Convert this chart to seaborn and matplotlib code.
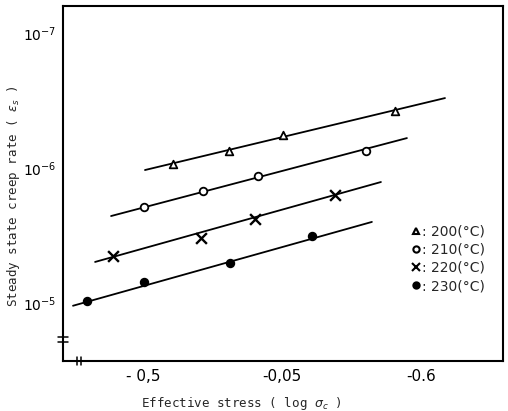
import numpy as np
import pandas as pd
import matplotlib
matplotlib.use("Agg")
import matplotlib.pyplot as plt
import seaborn as sns

# Temperatures (deg C) and measured steady-state creep rates
temps = [200, 210, 220, 230]

stress_200 = [0.216, 0.619, 1.007, 1.813]
rate_200 = [9.33e-7, 7.48e-7, 5.70e-7, 3.79e-7]

stress_210 = [0.007, 0.432, 0.827, 1.604]
rate_210 = [1.945e-6, 1.48e-6, 1.145e-6, 7.48e-7]

stress_220 = [-0.216, 0.417, 0.806, 1.381]
rate_220 = [4.49e-6, 3.30e-6, 2.39e-6, 1.585e-6]

stress_230 = [-0.403, 0.007, 0.626, 1.216]
rate_230 = [9.66e-6, 6.99e-6, 5.06e-6, 3.19e-6]

# Fitted straight lines (end points)
fit_x_200 = [0.014, 2.173]
fit_y_200 = [1.035e-6, 3.03e-7]
fit_x_210 = [-0.230, 1.899]
fit_y_210 = [2.27e-6, 6.0e-7]
fit_x_220 = [-0.345, 1.712]
fit_y_220 = [4.97e-6, 1.27e-6]
fit_x_230 = [-0.504, 1.647]
fit_y_230 = [1.05e-5, 2.51e-6]

x_ticks = [0, 1, 2]
x_tick_labels = ["- 0,5", "-0,05", "-0.6"]
y_ticks = [1e-7, 1e-6, 1e-5]
y_tick_labels = [r"$10^{-7}$", r"$10^{-6}$", r"$10^{-5}$"]

sns.set_theme(style="white")
plt.rcParams["font.family"] = ["DejaVu Sans"]

fig = plt.figure(figsize=(5.08, 4.11), dpi=100)
ax = fig.add_axes([0.124, 0.122, 0.866, 0.863])

series = [
    (200, stress_200, rate_200, fit_x_200, fit_y_200, "^", "white"),
    (210, stress_210, rate_210, fit_x_210, fit_y_210, "o", "white"),
    (220, stress_220, rate_220, fit_x_220, fit_y_220, "x", "black"),
    (230, stress_230, rate_230, fit_x_230, fit_y_230, "o", "black"),
]

handles = []
for t, sx, sy, fx, fy, mk, fc in series:
    fit_df = pd.DataFrame({"x": fx, "y": fy})
    sns.lineplot(data=fit_df, x="x", y="y", ax=ax, color="black",
                 linewidth=1.3, sort=False, estimator=None)
    pts = pd.DataFrame({"x": sx, "y": sy})
    if mk == "x":
        sns.scatterplot(data=pts, x="x", y="y", ax=ax, marker="x",
                        color="black", s=60, linewidth=1.7, zorder=3)
    else:
        sns.scatterplot(data=pts, x="x", y="y", ax=ax, marker=mk,
                        facecolor=fc, edgecolor="black", s=30,
                        linewidth=1.3, zorder=3)
    h, = ax.plot([], [], linestyle="none", marker=mk,
                 markerfacecolor=fc, markeredgecolor="black",
                 color="black", markersize=5.5 if mk == "x" else 4.5,
                 markeredgewidth=1.5)
    handles.append(h)

ax.set_yscale("log")
ax.set_ylim(2.69e-5, 6.31e-8)
ax.set_xlim(-0.576, 2.59)

ax.set_xticks(x_ticks)
ax.set_xticklabels(x_tick_labels, fontsize=11)
ax.set_yticks(y_ticks)
ax.set_yticklabels(y_tick_labels, fontsize=10)
ax.yaxis.set_minor_locator(matplotlib.ticker.NullLocator())
ax.tick_params(axis="x", direction="in", length=4, width=1.3,
               colors="black", pad=6)
ax.tick_params(axis="y", direction="in", length=4, width=1.3,
               colors="black", pad=5)

for sp in ax.spines.values():
    sp.set_color("black")
    sp.set_linewidth(1.5)

ax.set_xlabel(r"Effective stress ( log $\sigma_c$ )",
              family="DejaVu Sans Mono", fontsize=9)
ax.set_ylabel(r"Steady state creep rate ( $\varepsilon_s$ )",
              family="DejaVu Sans Mono", fontsize=9)
ax.xaxis.set_label_coords(0.405, -0.096)
ax.yaxis.set_label_coords(-0.093, 0.465)

# Axis break marks
for dy in (-0.006, 0.006):
    ax.plot([-0.012, 0.012], [0.06 + dy, 0.06 + dy], color="black",
            lw=1.1, transform=ax.transAxes, clip_on=False)
for dx in (-0.004, 0.004):
    ax.plot([0.036 + dx, 0.036 + dx], [-0.012, 0.012], color="black",
            lw=1.1, transform=ax.transAxes, clip_on=False)

leg = ax.legend(handles, [f": {t}(\u00b0C)" for t in temps],
                loc="upper left", bbox_to_anchor=(0.78, 0.40),
                frameon=False, handlelength=0.6, handletextpad=0.15,
                labelspacing=0.3, borderaxespad=0, fontsize=10)

fig.savefig("out.png", dpi=100, facecolor="white")
